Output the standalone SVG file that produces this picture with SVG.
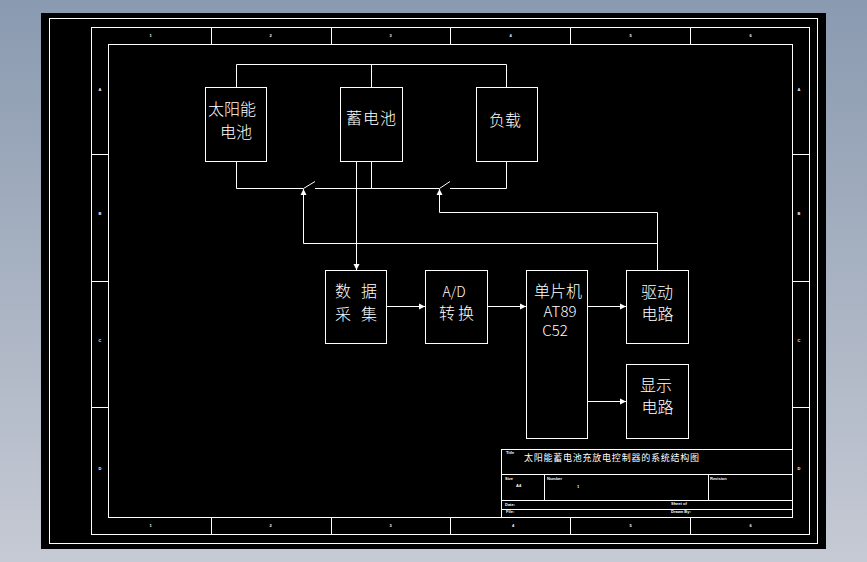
<svg xmlns="http://www.w3.org/2000/svg" width="867" height="562" viewBox="0 0 867 562">
<style>
.l{fill:none;stroke:#fff;stroke-width:1}
.b{fill:#000;stroke:#fff;stroke-width:1}
.t{fill:#fff;font-family:"Noto Sans CJK SC","Liberation Sans",sans-serif;font-size:16px;font-weight:300;text-anchor:middle}
.s{fill:#fff;font-family:"Liberation Sans",sans-serif;font-size:4px;font-weight:bold}
.m{text-anchor:middle}
.c{fill:#fff;font-family:"Noto Sans CJK SC",sans-serif;font-size:9px}
</style>
<defs>
<linearGradient id="bg" x1="0" y1="0" x2="0" y2="1"><stop offset="0" stop-color="#8a9ab0"/><stop offset="1" stop-color="#c6cad4"/></linearGradient>
<marker id="ar" markerWidth="7" markerHeight="7" refX="6" refY="3.500" orient="auto" markerUnits="userSpaceOnUse"><path d="M0 0.500L6 3.500L0 6.500z" fill="#fff"/></marker>
</defs>
<rect width="867" height="562" fill="url(#bg)"/>
<rect x="41" y="13" width="785" height="536" fill="#000"/>
<g id="frame">
<rect class="l" x="49.500" y="18.500" width="768" height="525"/>
<rect class="l" x="91.500" y="27.500" width="718" height="507"/>
<rect class="l" x="108.500" y="44.500" width="684" height="473"/>
<path class="l" d="M211.500 27.500V44.500M331.500 27.500V44.500M450.500 27.500V44.500M570.500 27.500V44.500M690.500 27.500V44.500M211.500 517.500V534.500M331.500 517.500V534.500M450.500 517.500V534.500M570.500 517.500V534.500M690.500 517.500V534.500M91.500 154.500H108.500M91.500 281.500H108.500M91.500 407.500H108.500M792.500 154.500H809.500M792.500 281.500H809.500M792.500 407.500H809.500"/>
<g class="s">
<text class="m" x="150.500" y="37">1</text><text class="m" x="270.500" y="37">2</text><text class="m" x="390.500" y="37">3</text><text class="m" x="510.500" y="37">4</text><text class="m" x="630.500" y="37">5</text><text class="m" x="750.500" y="37">6</text>
<text class="m" x="150.500" y="527">1</text><text class="m" x="270.500" y="527">2</text><text class="m" x="390.500" y="527">3</text><text class="m" x="513" y="527">4</text><text class="m" x="630.500" y="527">5</text><text class="m" x="750.500" y="527">6</text>
<text class="m" x="100" y="91">A</text><text class="m" x="100" y="215">B</text><text class="m" x="100" y="342">C</text><text class="m" x="100" y="470">D</text>
<text class="m" x="799" y="91">A</text><text class="m" x="799" y="215">B</text><text class="m" x="799" y="342">C</text><text class="m" x="799" y="470">D</text>
</g>
</g>
<g id="titleblock">
<rect class="l" x="501.500" y="449.500" width="291" height="68"/>
<path class="l" d="M501.500 474.500H792.500M501.500 500.500H792.500M501.500 509.500H792.500M544.500 474.500V500.500M708.500 474.500V500.500"/>
<text class="c" x="524" y="461" textLength="175">太阳能蓄电池充放电控制器的系统结构图</text>
<g class="s">
<text x="506" y="453.500">Title</text><text x="505" y="480">Size</text><text x="516" y="487">A4</text><text x="547" y="480">Number</text><text x="577" y="488">1</text><text x="710" y="480">Revision</text><text x="505" y="505.500">Date:</text><text x="671" y="505">Sheet of</text><text x="506" y="513">File:</text><text x="671" y="513">Drawn By:</text>
</g>
</g>
<g id="connectors">
<path class="l" d="M236.500 87.500V64.500H506.500V87.500M371.500 64.500V87.500"/>
<path class="l" d="M236.500 161.500V188.500H303.500L315 181.500M315 188.500H439.500L450 181.500M450 188.500H506.500V161.500M371.500 161.500V188.500"/>
<path class="l" d="M356.500 161.500V270" marker-end="url(#ar)"/>
<path class="l" d="M657.500 270.500V212.500H439.500V189" marker-end="url(#ar)"/>
<path class="l" d="M657.500 243.500H303.500V189" marker-end="url(#ar)"/>
<path class="l" d="M386.500 306.500H425" marker-end="url(#ar)"/>
<path class="l" d="M487.500 306.500H526" marker-end="url(#ar)"/>
<path class="l" d="M587.500 306.500H626" marker-end="url(#ar)"/>
<path class="l" d="M587.500 401.500H626" marker-end="url(#ar)"/>
</g>
<g id="solar"><rect class="b" x="205.500" y="87.500" width="61" height="74"/><text class="t"><tspan x="232" y="115">太阳能</tspan><tspan x="236" y="138">电池</tspan></text></g>
<g id="battery"><rect class="b" x="340.500" y="87.500" width="62" height="74"/><text class="t" x="371.500" y="124" letter-spacing="1">蓄电池</text></g>
<g id="load"><rect class="b" x="476.500" y="87.500" width="61" height="74"/><text class="t" x="505" y="126">负载</text></g>
<g id="acquire"><rect class="b" x="325.500" y="270.500" width="61" height="73"/><text class="t"><tspan x="343" y="296.500">数</tspan><tspan x="369" y="296.500">据</tspan><tspan x="343" y="319.500">采</tspan><tspan x="369" y="319.500">集</tspan></text></g>
<g id="adc"><rect class="b" x="425.500" y="270.500" width="62" height="73"/><text class="t"><tspan x="454" y="297" font-size="14">A/D</tspan><tspan x="447" y="318.500">转</tspan><tspan x="466" y="318.500">换</tspan></text></g>
<g id="mcu"><rect class="b" x="526.500" y="270.500" width="61" height="168"/><text class="t"><tspan x="558" y="296.500">单片机</tspan><tspan x="560" y="317" font-size="15">AT89</tspan><tspan x="555" y="336" font-size="15">C52</tspan></text></g>
<g id="driver"><rect class="b" x="626.500" y="270.500" width="62" height="73"/><text class="t"><tspan x="657" y="298">驱动</tspan><tspan x="657.500" y="320">电路</tspan></text></g>
<g id="display"><rect class="b" x="626.500" y="364.500" width="62" height="74"/><text class="t"><tspan x="656" y="391">显示</tspan><tspan x="657.500" y="413">电路</tspan></text></g>
</svg>
